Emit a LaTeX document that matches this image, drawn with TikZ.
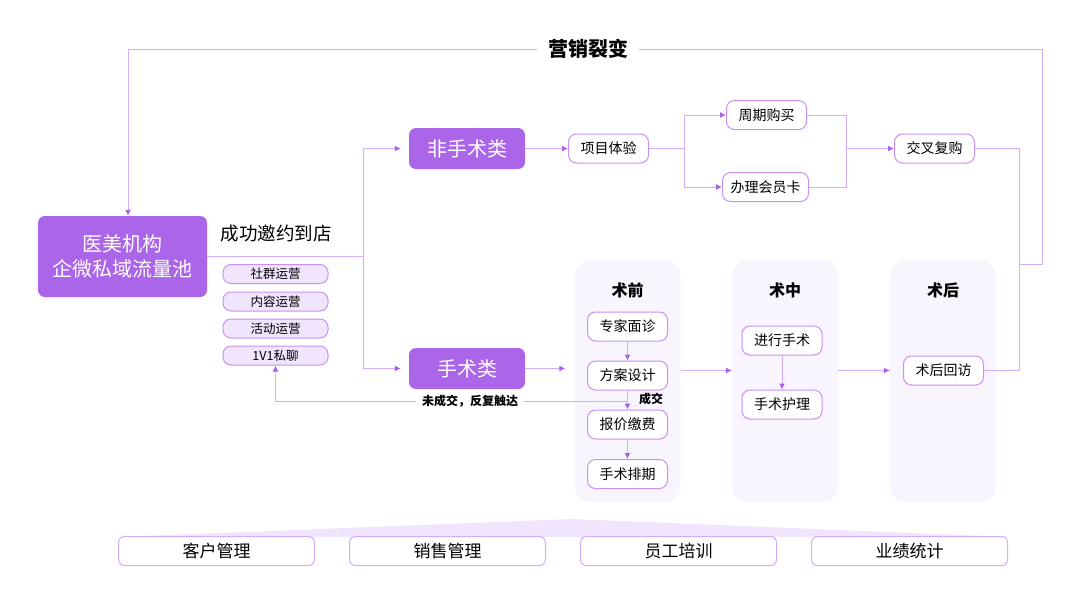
\documentclass[tikz,border=0pt]{standalone}
\usepackage{fontspec}
\setmainfont{Noto Sans CJK SC}
\usetikzlibrary{arrows.meta}
\definecolor{zi}{HTML}{AB65E8}
\definecolor{xian}{HTML}{D3ADF5}
\definecolor{bian}{HTML}{C891F2}
\definecolor{jian}{HTML}{A95FE6}
\definecolor{qian}{HTML}{F1E5FD}
\definecolor{ban}{HTML}{F9F5FF}
\tikzset{
  lian/.style={draw=xian, line width=1pt},
  arr/.style={draw=xian, line width=1pt, -{Latex[length=6pt,width=6pt,color=jian]}},
  dakuang/.style={fill=zi, text=white, rounded corners=7pt, inner sep=0pt, align=center, font=\fontsize{20}{25}\selectfont},
  xiaokuang/.style={draw=bian, fill=white, line width=1pt, rounded corners=8pt, minimum width=80pt, minimum height=29pt, inner xsep=8pt, inner ysep=0pt, font=\fontsize{14}{16}\selectfont},
  pill/.style={draw=bian, fill=qian, line width=1pt, rounded corners=8pt, minimum width=105pt, minimum height=19pt, inner sep=0pt, font=\fontsize{12.5}{14}\selectfont},
  panel/.style={fill=ban, rounded corners=16pt, minimum width=106pt, minimum height=242pt, inner sep=0pt},
  dikuang/.style={draw=xian, fill=white, line width=1pt, rounded corners=6pt, minimum width=196pt, minimum height=29pt, inner sep=0pt, font=\fontsize{17}{20}\selectfont},
  biaoti/.style={font=\bfseries\fontsize{16}{18}\selectfont}
}
\begin{document}
\begin{tikzpicture}[x=1pt,y=-1pt]
\useasboundingbox (0,0) rectangle (1080,608);

\node[panel] (qian) at (627.5,381) {};
\node[panel] (zhong) at (785,381) {};
\node[panel] (hou) at (943,381) {};
\node[biaoti] (tq) at (627.5,290) {术前};
\node[biaoti] (tz) at (785,290) {术中};
\node[biaoti] (th) at (943,290) {术后};

\fill[qian] (119,537) -- (572,519) -- (1008,537) -- cycle;

\node[dakuang, minimum width=169pt, minimum height=81pt] (main) at (122.5,256.5) {医美机构\\企微私域流量池};
\node[font=\fontsize{18.5}{20}\selectfont] (yy) at (276,234) {成功邀约到店};
\node[pill] (p1) at (275.5,274) {社群运营};
\node[pill] (p2) at (275.5,301.5) {内容运营};
\node[pill] (p3) at (275.5,328.5) {活动运营};
\node[pill] (p4) at (275.5,355.5) {1V1私聊};

\node[dakuang, minimum width=116pt, minimum height=41pt] (fss) at (467,148.5) {非手术类};
\node[dakuang, minimum width=116pt, minimum height=41pt] (ss) at (467,368.5) {手术类};

\node[xiaokuang] (xmty) at (608.5,148.5) {项目体验};
\node[xiaokuang] (zqgm) at (766.5,115) {周期购买};
\node[xiaokuang] (blhy) at (765.5,187) {办理会员卡};
\node[xiaokuang] (jcfg) at (934.5,148.5) {交叉复购};

\node[xiaokuang] (zjmz) at (627.5,326.5) {专家面诊};
\node[xiaokuang] (fasj) at (627.5,375.5) {方案设计};
\node[xiaokuang] (bjjf) at (627.5,424.5) {报价缴费};
\node[xiaokuang] (sspq) at (627.5,474) {手术排期};
\node[xiaokuang] (jxss) at (782,340.5) {进行手术};
\node[xiaokuang] (sshl) at (782,404.5) {手术护理};
\node[xiaokuang] (shhf) at (943.5,370.5) {术后回访};

\node[font=\bfseries\fontsize{20}{22}\selectfont, inner xsep=11pt] (lb) at (588,49) {营销裂变};

\coordinate (fen) at (363,256.5);
\coordinate (zuo) at (684,148.5);
\coordinate (you) at (846,148.5);
\coordinate (hui) at (1019,264);
\coordinate (ding) at (1042,49);
\coordinate (fk) at (627.5,401);

\draw[lian] (main.east) -- (fen);
\draw[arr, shorten >=8pt] (fen) |- (fss.west);
\draw[arr, shorten >=8pt] (fen) |- (ss.west);

\draw[arr] (fss) -- (xmty);
\draw[lian] (xmty.east) -- (zuo);
\draw[arr] (zuo) |- (zqgm.west);
\draw[arr] (zuo) |- (blhy.west);
\draw[lian] (zqgm.east) -| (you);
\draw[lian] (blhy.east) -| (you);
\draw[arr] (you) -- (jcfg.west);

\draw[lian] (jcfg.east) -| (hui);
\draw[lian] (shhf.east) -| (hui);
\draw[lian] (hui) -| (ding);
\draw[lian] (ding) -- (lb.east);
\draw[arr] (lb.west) -| ([xshift=5.5pt]main.north);

\draw[arr, shorten >=9pt] (ss.east) -- (ss.east -| qian.west);
\draw[arr] (qian.east |- shhf) -- (zhong.west |- shhf);
\draw[arr] (zhong.east |- shhf) -- (hou.west |- shhf);

\draw[arr] (zjmz) -- (fasj);
\draw[arr] (fasj) -- (bjjf);
\draw[arr] (bjjf) -- (sspq);
\draw[arr] (jxss) -- (sshl);

\draw[arr] (fk) -| (p4.south);
\node[fill=white, inner xsep=6pt, inner ysep=1pt, font=\bfseries\fontsize{12}{14}\selectfont] (wcj) at (470,401) {未成交，反复触达};
\node[font=\bfseries\fontsize{12}{14}\selectfont] (cj) at (651,399) {成交};

\foreach \t [count=\i from 0] in {客户管理,销售管理,员工培训,业绩统计}
  \node[dikuang] (d\i) at (216.5+231*\i,551) {\t};
\end{tikzpicture}
\end{document}
